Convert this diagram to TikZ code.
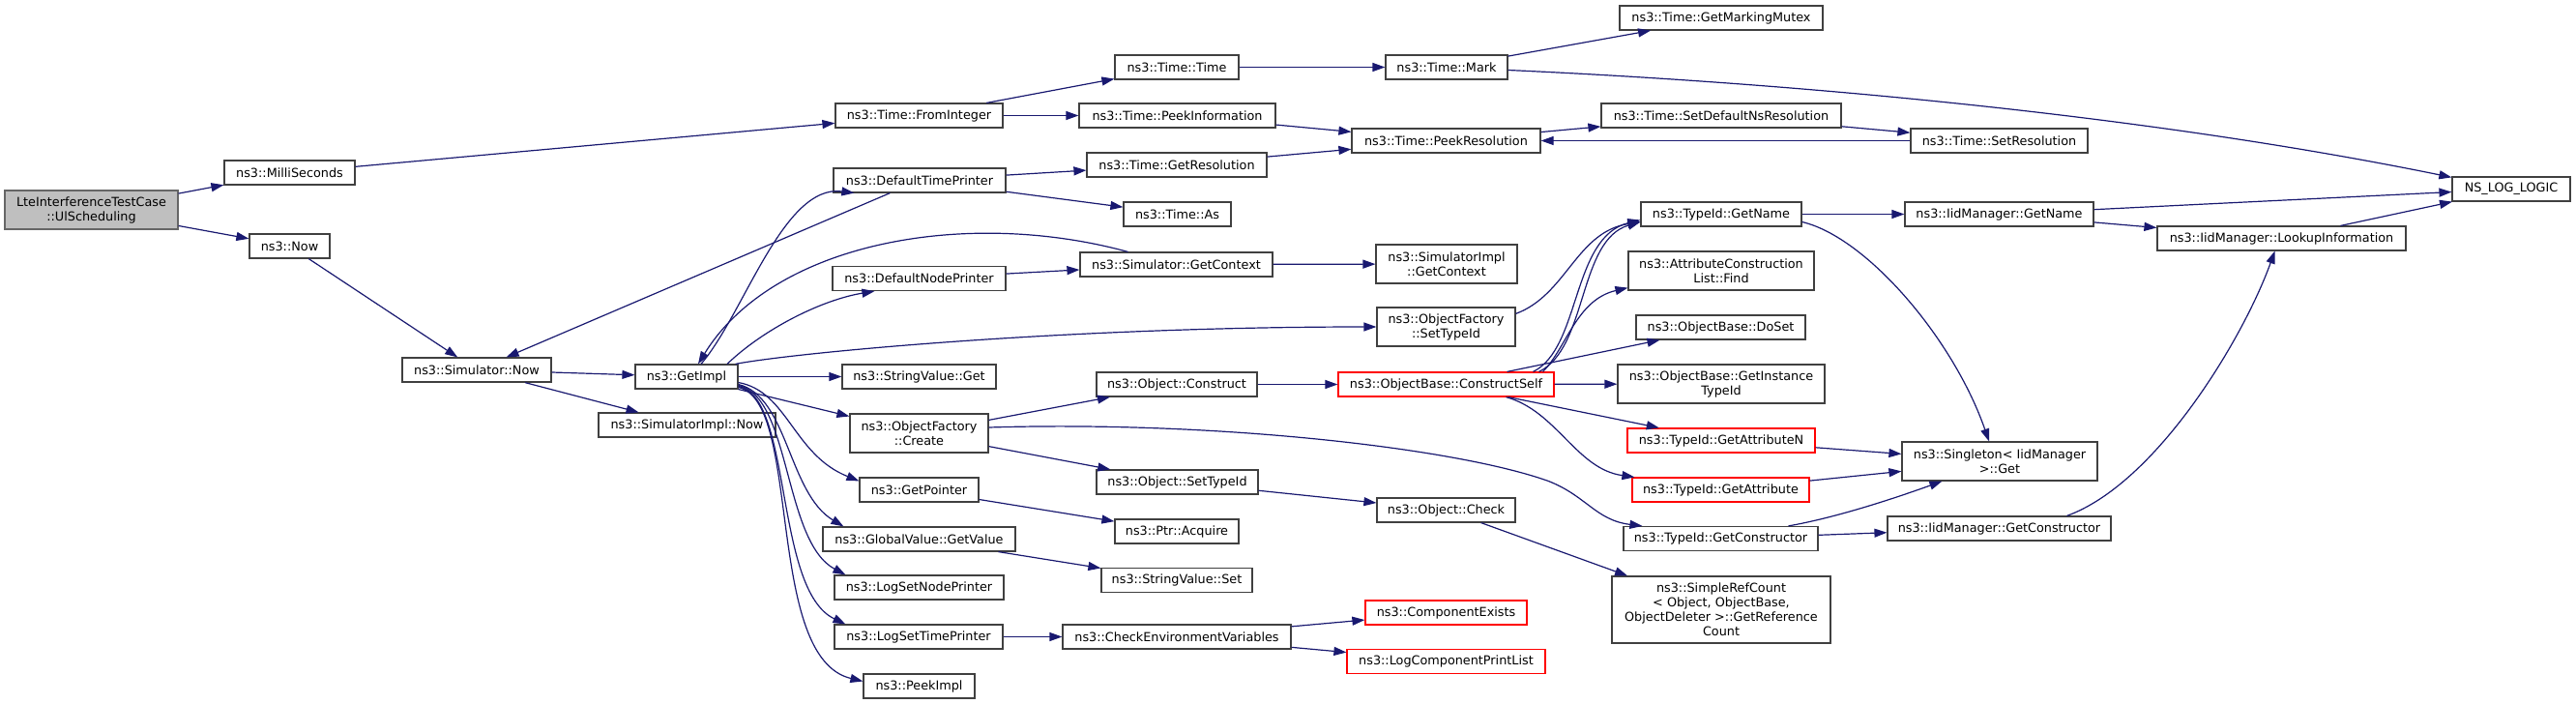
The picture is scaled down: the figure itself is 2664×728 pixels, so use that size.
\documentclass[tikz,border=0pt]{standalone}
\usepackage{fontspec}
\setmainfont{DejaVu Sans}
\usepackage{tikz}
\usetikzlibrary{arrows.meta,calc}

\definecolor{edgeblue}{HTML}{191970}
\definecolor{rootgray}{HTML}{BFBFBF}

\tikzset{
  fn/.style={draw=black!75, line width=1.2pt, inner sep=0pt, minimum height=25pt,
    align=center, font=\fontsize{12.8}{15}\selectfont},
  fn red/.style={fn, draw=red},
  fn root/.style={fn, fill=rootgray, draw=black!60},
  call/.style={draw=edgeblue, line width=1.2pt, -{Triangle[length=13pt,width=9pt]}},
}

\begin{document}
\begin{tikzpicture}[x=1pt,y=-1pt]
\useasboundingbox (0,0) rectangle (2664,728);

% functions
\node[fn root, minimum width=179pt, minimum height=40pt] (root) at (94.5,217) {LteInterferenceTestCase\\::UlScheduling};
\foreach \name/\x/\y/\w/\txt in {
  MilliSeconds/299.5/178.5/135/ns3::MilliSeconds,
  Now/299.5/254.5/83/ns3::Now,
  SimNow/493/382.5/154/ns3::Simulator::Now,
  GetImpl/710/389.5/106/ns3::GetImpl,
  SimImplNow/710.5/439.5/183/ns3::SimulatorImpl::Now,
  FromInteger/950.5/119.5/173/ns3::Time::FromInteger,
  DefaultTimePrinter/951/186.5/178/ns3::DefaultTimePrinter,
  DefaultNodePrinter/950.5/288/179/ns3::DefaultNodePrinter,
  StringValueGet/950.5/389.5/159/ns3::StringValue::Get,
  GetPointer/950.5/506.5/123/ns3::GetPointer,
  GlobalValueGetValue/950.5/557.5/199/ns3::GlobalValue::GetValue,
  LogSetNodePrinter/950.5/607.5/175/ns3::LogSetNodePrinter,
  LogSetTimePrinter/950/658.5/174/ns3::LogSetTimePrinter,
  PeekImpl/950.5/709.5/115/ns3::PeekImpl,
  TimeTime/1217/69.5/128/ns3::Time::Time,
  PeekInformation/1217.5/119.5/203/ns3::Time::PeekInformation,
  GetResolution/1217/170.5/186/ns3::Time::GetResolution,
  TimeAs/1217.5/221.5/111/ns3::Time::As,
  SimGetContext/1216.5/273.5/199/ns3::Simulator::GetContext,
  ObjectConstruct/1217/397.5/166/ns3::Object::Construct,
  ObjectSetTypeId/1217.5/498.5/167/ns3::Object::SetTypeId,
  PtrAcquire/1217/549.5/128/ns3::Ptr::Acquire,
  StringValueSet/1217/600/156/ns3::StringValue::Set,
  CheckEnv/1217/658.5/236/ns3::CheckEnvironmentVariables,
  TimeMark/1496/69.5/126/ns3::Time::Mark,
  PeekResolution/1495.5/145.5/195/ns3::Time::PeekResolution,
  ObjectCheck/1495.5/527.5/143/ns3::Object::Check,
  GetMarkingMutex/1780/18.5/210/ns3::Time::GetMarkingMutex,
  SetDefaultNsResolution/1780/119.5/248/ns3::Time::SetDefaultNsResolution,
  TypeIdGetName/1780/221.5/166/ns3::TypeId::GetName,
  DoSet/1779.5/338.5/175/ns3::ObjectBase::DoSet,
  TypeIdGetConstructor/1779.5/557/201/ns3::TypeId::GetConstructor,
  SetResolution/2067.5/145.5/183/ns3::Time::SetResolution,
  IidGetName/2067.5/221.5/195/ns3::IidManager::GetName,
  IidGetConstructor/2067.5/546.5/231/ns3::IidManager::GetConstructor,
  LookupInformation/2359.5/246.5/257/ns3::IidManager::LookupInformation,
  NsLogLogic/2597/195.5/122/NS\_LOG\_LOGIC}{
  \node[fn, minimum width=\w pt] (\name) at (\x,\y) {\txt};
}
\node[fn, minimum width=143pt, minimum height=40pt] (FactoryCreate) at (950.5,448) {ns3::ObjectFactory\\::Create};
\node[fn, minimum width=146pt, minimum height=40pt] (SimImplGetContext) at (1496,273) {ns3::SimulatorImpl\\::GetContext};
\node[fn, minimum width=143pt, minimum height=40pt] (ObjFactSetTypeId) at (1495.5,338) {ns3::ObjectFactory\\::SetTypeId};
\node[fn, minimum width=192pt, minimum height=40pt] (AttrFind) at (1780,280) {ns3::AttributeConstruction\\List::Find};
\node[fn, minimum width=214pt, minimum height=40pt] (GetInstanceTypeId) at (1780,397) {ns3::ObjectBase::GetInstance\\TypeId};
\node[fn, minimum width=226pt, minimum height=69pt] (SimpleRefCount) at (1780,630.5) {ns3::SimpleRefCount\\< Object, ObjectBase,\\ObjectDeleter >::GetReference\\Count};
\node[fn, minimum width=202pt, minimum height=40pt] (SingletonGet) at (2068,477) {ns3::Singleton< IidManager\\>::Get};
\node[fn red, minimum width=223pt] (ConstructSelf) at (1495.5,397.5) {ns3::ObjectBase::ConstructSelf};
\node[fn red, minimum width=167pt] (ComponentExists) at (1495.5,633.5) {ns3::ComponentExists};
\node[fn red, minimum width=205pt] (LogComponentPrintList) at (1495.5,684) {ns3::LogComponentPrintList};
\node[fn red, minimum width=194pt] (GetAttributeN) at (1780,455.5) {ns3::TypeId::GetAttributeN};
\node[fn red, minimum width=183pt] (GetAttribute) at (1779.5,506.5) {ns3::TypeId::GetAttribute};

% straight calls
\foreach \from/\to in {
  root/MilliSeconds, root/Now, MilliSeconds/FromInteger, Now/SimNow,
  SimNow/GetImpl, SimNow/SimImplNow, FromInteger/TimeTime, FromInteger/PeekInformation,
  TimeTime/TimeMark, TimeMark/GetMarkingMutex,
  PeekInformation/PeekResolution, GetResolution/PeekResolution,
  PeekResolution/SetDefaultNsResolution, SetDefaultNsResolution/SetResolution,
  DefaultTimePrinter/GetResolution, DefaultTimePrinter/TimeAs, DefaultTimePrinter/SimNow,
  DefaultNodePrinter/SimGetContext, SimGetContext/SimImplGetContext,
  GetImpl/StringValueGet, GetImpl/FactoryCreate,
  FactoryCreate/ObjectConstruct, FactoryCreate/ObjectSetTypeId,
  GetPointer/PtrAcquire, GlobalValueGetValue/StringValueSet,
  LogSetTimePrinter/CheckEnv, CheckEnv/ComponentExists, CheckEnv/LogComponentPrintList,
  ObjectConstruct/ConstructSelf, ObjectSetTypeId/ObjectCheck, ObjectCheck/SimpleRefCount,
  ConstructSelf/GetInstanceTypeId, ConstructSelf/GetAttributeN, ConstructSelf/DoSet,
  TypeIdGetName/IidGetName, GetAttributeN/SingletonGet, GetAttribute/SingletonGet,
  TypeIdGetConstructor/IidGetConstructor, IidGetName/NsLogLogic,
  IidGetName/LookupInformation, LookupInformation/NsLogLogic} {
  \draw[call] (\from) -- (\to);
}
\draw[call] (SetResolution.west) -- (PeekResolution.east);

% curved calls
\draw[call] ($(TimeMark.east)+(0,3)$) .. controls (1900,88) and (2250,125) .. ($(NsLogLogic.north west)+(0,1)$);
\draw[call] ($(GetImpl.north)+(15,0)$) .. controls (770,324) and (810,190) .. ($(DefaultTimePrinter.south west)+(22,0)$);
\draw[call] ($(SimGetContext.north west)+(50,0)$) .. controls (1000,215) and (800,250) .. ($(GetImpl.north)+(12,0)$);
\draw[call] ($(GetImpl.north)+(42,0)$) .. controls (790,340) and (850,310) .. ($(DefaultNodePrinter.south west)+(44,0)$);
\draw[call] ($(GetImpl.north east)+(-3,0)$) .. controls (820,365) and (1100,338) .. (ObjFactSetTypeId.west);
\draw[call] ($(GetImpl.east)+(0,6)$) .. controls (815,405) and (820,470) .. ($(GetPointer.north west)+(0,4)$);
\draw[call] ($(GetImpl.east)+(0,8)$) .. controls (815,410) and (815,510) .. ($(GlobalValueGetValue.north west)+(22,0)$);
\draw[call] ($(GetImpl.east)+(0,9)$) .. controls (818,410) and (810,560) .. ($(LogSetNodePrinter.north west)+(12,0)$);
\draw[call] ($(GetImpl.east)+(0,10)$) .. controls (820,410) and (800,610) .. ($(LogSetTimePrinter.north west)+(12,0)$);
\draw[call] ($(GetImpl.east)+(0,11)$) .. controls (830,415) and (790,680) .. ($(PeekImpl.west)+(0,-5)$);
\draw[call] ($(FactoryCreate.east)+(0,-6)$) .. controls (1250,435) and (1500,462) .. (1600,497)
  .. controls (1640,512) and (1650,538) .. ($(TypeIdGetConstructor.north west)+(20,0)$);
\draw[call] ($(ObjFactSetTypeId.north east)+(0,7)$) .. controls (1620,305) and (1630,240) .. ($(TypeIdGetName.west)+(0,8)$);
\draw[call] ($(ConstructSelf.north)+(90,0)$) .. controls (1635,360) and (1625,245) .. ($(TypeIdGetName.west)+(0,6)$);
\draw[call] ($(ConstructSelf.north)+(96,0)$) .. controls (1642,360) and (1632,248) .. ($(TypeIdGetName.west)+(0,8)$);
\draw[call] ($(ConstructSelf.north)+(100,0)$) .. controls (1620,360) and (1630,310) .. ($(AttrFind.south west)+(0,-3)$);
\draw[call] ($(ConstructSelf.south)+(62,0)$) .. controls (1610,425) and (1630,485) .. ($(GetAttribute.north west)+(3,0)$);
\draw[call] ($(TypeIdGetName.east)+(0,8)$) .. controls (1930,245) and (2020,350) .. ($(SingletonGet.north)+(-11,0)$);
\draw[call] ($(TypeIdGetConstructor.north)+(70,0)$) .. controls (1900,535) and (1960,515) .. ($(SingletonGet.south west)+(42,0)$);
\draw[call] ($(IidGetConstructor.north)+(70,0)$) .. controls (2230,500) and (2320,350) .. ($(LookupInformation.south)+(-7,0)$);
\end{tikzpicture}
\end{document}
